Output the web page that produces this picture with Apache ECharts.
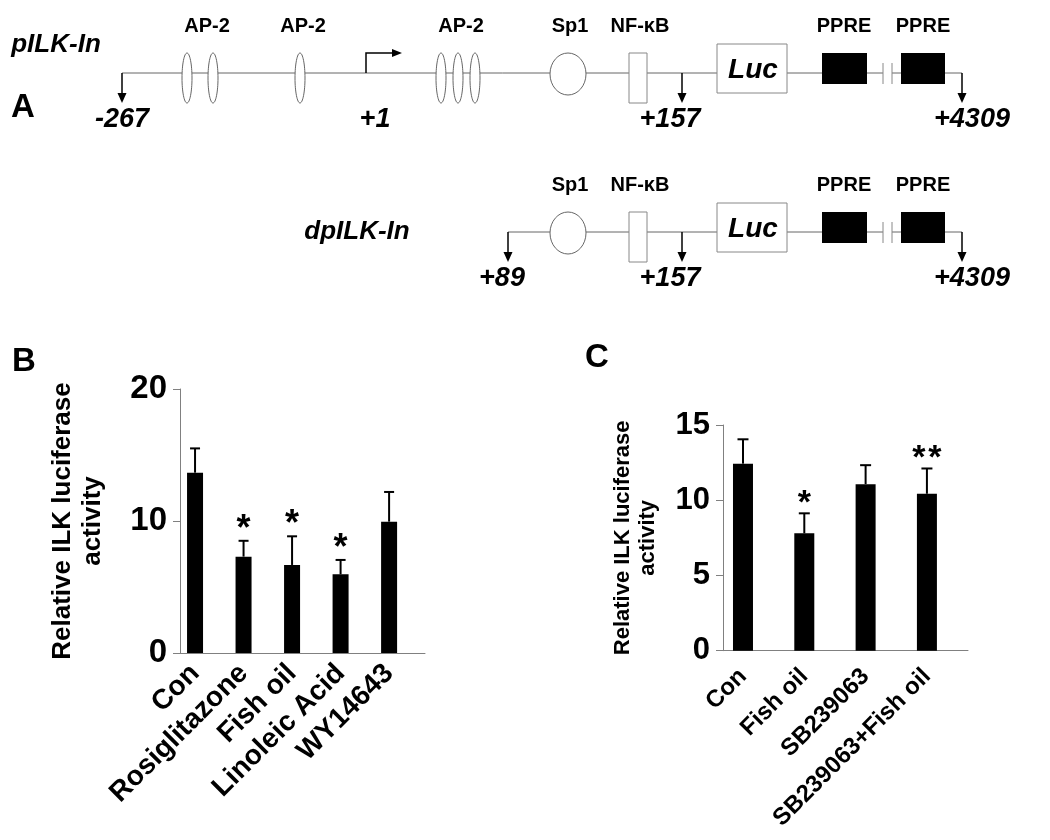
<!DOCTYPE html>
<html>
<head>
<meta charset="utf-8">
<script src="https://cdn.jsdelivr.net/npm/echarts@6/dist/echarts.min.js"></script>
<style>html,body{margin:0;padding:0;background:#fff}#c{width:1050px;height:840px}</style>
</head>
<body>
<div id="c"></div>
<script>
// ---- data ----
const catsB = ['Con', 'Rosiglitazone', 'Fish oil', 'Linoleic Acid', 'WY14643'];
const valsB = [13.66, 7.3, 6.67, 5.96, 9.95];
const errB  = [1.84, 1.2, 2.17, 1.09, 2.25];
const sigB  = ['', '*', '*', '*', ''];
const ticksB = [0, 10, 20];

const catsC = ['Con', 'Fish oil', 'SB239063', 'SB239063+Fish oil'];
const valsC = [12.43, 7.8, 11.07, 10.43];
const errC  = [1.62, 1.33, 1.26, 1.68];
const sigC  = ['', '*', '', '**'];
const ticksC = [0, 5, 10, 15];

const FONT = '"Liberation Sans", Arial, Helvetica, sans-serif';
const AXIS = '#808080';
const LINE = '#666';

// ---- schematic (panel A) ----
function txt(x, y, s, size, italic, extra) {
  return Object.assign({
    type: 'text', x: x, y: y, z: 10,
    style: {
      text: s, fill: '#000',
      font: (italic ? 'italic ' : '') + 'bold ' + size + 'px ' + FONT,
      align: 'center', verticalAlign: 'middle',
      textAlign: 'center', textVerticalAlign: 'middle'
    }
  }, extra || {});
}
function seg(x1, y1, x2, y2, color, w) {
  return { type: 'line', z: 1, shape: { x1: x1, y1: y1, x2: x2, y2: y2 }, style: { stroke: color || LINE, lineWidth: w || 1 } };
}
function downArrow(x, y) {
  return [
    seg(x, y, x, y + 22, '#000', 1.5),
    { type: 'polygon', z: 3, shape: { points: [[x - 4.5, y + 20], [x + 4.5, y + 20], [x, y + 30]] }, style: { fill: '#000' } }
  ];
}
function row(y, startX) {
  const els = [];
  els.push(seg(startX, y, 883, y));
  els.push(seg(892, y, 962, y));
  els.push(...downArrow(startX, y));
  els.push(...downArrow(682, y));
  els.push(...downArrow(962, y));
  // Sp1
  els.push({ type: 'ellipse', z: 2, shape: { cx: 568, cy: y + 1, rx: 18, ry: 21 }, style: { fill: '#fff', stroke: LINE, lineWidth: 1 } });
  els.push(txt(570, y - 47, 'Sp1', 20));
  // NF-kB
  els.push({ type: 'rect', z: 2, shape: { x: 629, y: y - 20, width: 18, height: 50 }, style: { fill: '#fff', stroke: '#888', lineWidth: 1 } });
  els.push(txt(640, y - 47, 'NF-κB', 20));
  // Luc
  els.push({ type: 'rect', z: 2, shape: { x: 717, y: y - 29, width: 70, height: 49 }, style: { fill: '#fff', stroke: '#888', lineWidth: 1 } });
  els.push(txt(753, y - 3, 'Luc', 28, true));
  // PPRE
  els.push({ type: 'rect', z: 2, shape: { x: 822, y: y - 20, width: 45, height: 31 }, style: { fill: '#000' } });
  els.push({ type: 'rect', z: 2, shape: { x: 901, y: y - 20, width: 44, height: 31 }, style: { fill: '#000' } });
  els.push(txt(844, y - 47, 'PPRE', 20));
  els.push(txt(923, y - 47, 'PPRE', 20));
  // break marks
  els.push(seg(883, y - 10, 883, y + 11, '#888', 1));
  els.push(seg(892, y - 10, 892, y + 11, '#888', 1));
  // numbers
  els.push(txt(670, y + 47, '+157', 27, true));
  els.push(txt(972, y + 47, '+4309', 27, true));
  return els;
}

const graphics = [];
// row 1
const y1 = 73;
graphics.push(...row(y1, 122));
[187, 213, 300, 441, 458, 475].forEach(function (cx) {
  graphics.push({ type: 'ellipse', z: 2, shape: { cx: cx, cy: y1 + 5, rx: 5, ry: 25 }, style: { fill: '#fff', stroke: LINE, lineWidth: 1 } });
});
graphics.push(txt(207, y1 - 47, 'AP-2', 20));
graphics.push(txt(303, y1 - 47, 'AP-2', 20));
graphics.push(txt(461, y1 - 47, 'AP-2', 20));
graphics.push({ type: 'polyline', z: 3, shape: { points: [[366, y1], [366, y1 - 20], [394, y1 - 20]] }, style: { stroke: '#000', lineWidth: 1.5, fill: null } });
graphics.push({ type: 'polygon', z: 3, shape: { points: [[392, y1 - 24], [392, y1 - 16], [402, y1 - 20]] }, style: { fill: '#000' } });
graphics.push(txt(122, y1 + 47, '-267', 27, true));
graphics.push(txt(375, y1 + 47, '+1', 27, true));
graphics.push(txt(56, 45, 'pILK-In', 26, true));
graphics.push(txt(23, 108, 'A', 33));
// row 2
const y2 = 232;
graphics.push(...row(y2, 508));
graphics.push(txt(502, y2 + 47, '+89', 27, true));
graphics.push(txt(357, y2, 'dpILK-In', 26, true));
// panel letters
graphics.push(txt(24, 362, 'B', 33));
graphics.push(txt(597, 358, 'C', 33));

// ---- charts ----
function errSeries(idx, vals, errs, sig, capW, starSize) {
  return {
    type: 'custom', xAxisIndex: idx, yAxisIndex: idx, z: 5,
    data: vals.map(function (v, i) { return [i, v, errs[i]]; }),
    renderItem: function (params, api) {
      const i = params.dataIndex;
      const x = api.value(0), v = api.value(1), e = api.value(2);
      const p0 = api.coord([x, v]);
      const p1 = api.coord([x, v + e]);
      const children = [
        { type: 'line', shape: { x1: p0[0], y1: p0[1], x2: p1[0], y2: p1[1] }, style: { stroke: '#000', lineWidth: 2 } },
        { type: 'line', shape: { x1: p1[0] - capW / 2, y1: p1[1], x2: p1[0] + capW / 2, y2: p1[1] }, style: { stroke: '#000', lineWidth: 2 } }
      ];
      if (sig[i]) {
        children.push({
          type: 'text', x: p1[0], y: p1[1] + 7,
          style: { text: sig[i].split('').join('\u200A'), font: 'bold ' + starSize + 'px ' + FONT, fill: '#000', align: 'center', verticalAlign: 'bottom', textAlign: 'center', textVerticalAlign: 'bottom' }
        });
      }
      return { type: 'group', children: children };
    }
  };
}

function xAxisCfg(idx, cats, min, max, size, margin) {
  return {
    type: 'value', gridIndex: idx, min: min, max: max,
    axisLine: { show: true, onZero: false, lineStyle: { color: AXIS, width: 1 } },
    axisTick: { show: false },
    splitLine: { show: false },
    axisLabel: {
      customValues: cats.map(function (c, i) { return i; }),
      formatter: function (v) { return cats[Math.round(v)]; },
      rotate: 45, margin: margin, color: '#000', fontSize: size, fontWeight: 'bold', fontFamily: FONT
    }
  };
}
function yAxisCfg(idx, ticks, size, nameSize, nameGap, lh) {
  return {
    type: 'value', gridIndex: idx, min: ticks[0], max: ticks[ticks.length - 1], interval: ticks[1] - ticks[0],
    axisLine: { show: true, onZero: false, lineStyle: { color: AXIS, width: 1 } },
    axisTick: { show: true, length: 7, lineStyle: { color: AXIS, width: 1 }, customValues: ticks },
    splitLine: { show: false },
    axisLabel: { customValues: ticks, margin: 13, color: '#000', fontSize: size, fontWeight: 'bold', fontFamily: FONT },
    name: 'Relative ILK luciferase\nactivity',
    nameLocation: 'middle', nameRotate: 90, nameGap: nameGap,
    nameTextStyle: { color: '#000', fontSize: nameSize, fontWeight: 'bold', fontFamily: FONT, lineHeight: lh, align: 'center' }
  };
}

const chart = echarts.init(document.getElementById('c'), null, { renderer: 'canvas' });
chart.setOption({
  animation: false,
  backgroundColor: '#fff',
  grid: [
    { left: 180, top: 389, width: 245, height: 264 },
    { left: 723, top: 425, width: 245, height: 225.7 }
  ],
  xAxis: [
    xAxisCfg(0, catsB, -0.31, 4.74, 28, 16),
    xAxisCfg(1, catsC, -0.326, 3.67, 24, 22)
  ],
  yAxis: [
    yAxisCfg(0, ticksB, 33, 26, 72, 30),
    yAxisCfg(1, ticksC, 31, 22, 63, 25)
  ],
  series: [
    { type: 'bar', xAxisIndex: 0, yAxisIndex: 0, barWidth: 16, itemStyle: { color: '#000' },
      data: valsB.map(function (v, i) { return [i, v]; }) },
    errSeries(0, valsB, errB, sigB, 10, 36),
    { type: 'bar', xAxisIndex: 1, yAxisIndex: 1, barWidth: 20, itemStyle: { color: '#000' },
      data: valsC.map(function (v, i) { return [i, v]; }) },
    errSeries(1, valsC, errC, sigC, 11, 34)
  ],
  graphic: graphics
});
</script>
</body>
</html>
